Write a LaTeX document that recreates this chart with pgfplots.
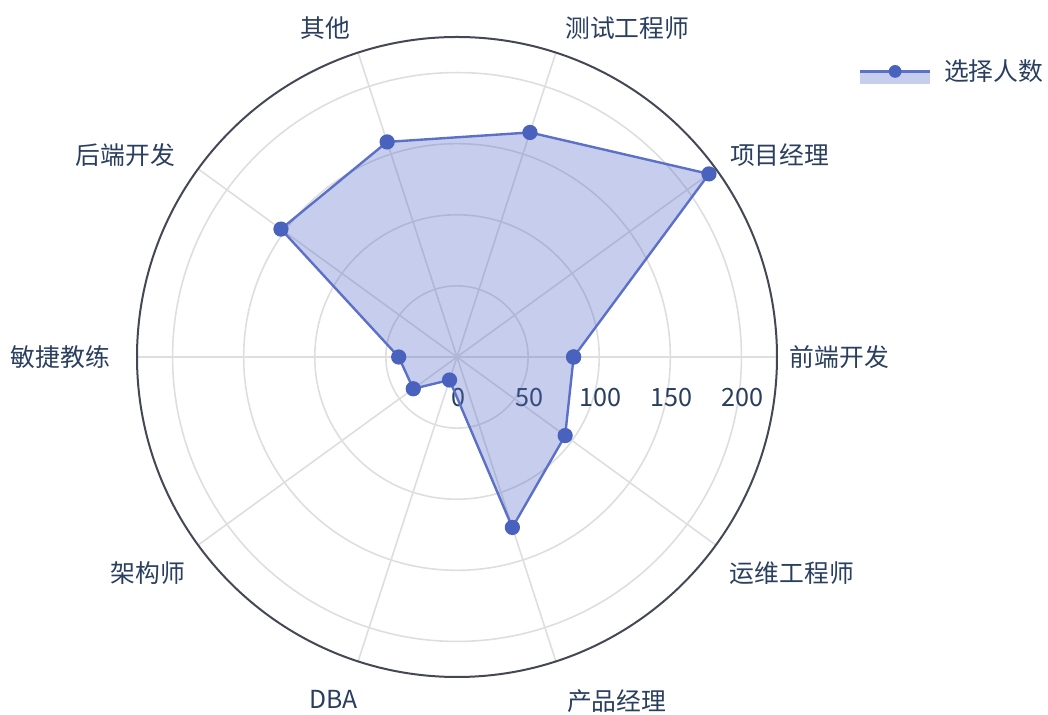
\documentclass[border=0pt]{standalone}
\usepackage{fontspec}
\setmainfont{Noto Sans CJK SC}
\usepackage{pgfplots}
\pgfplotsset{compat=1.18}
\usepgfplotslibrary{polar}
\definecolor{txt}{RGB}{42,63,95}
\definecolor{linec}{RGB}{92,112,200}
\definecolor{markc}{RGB}{72,98,190}
\definecolor{fillb}{RGB}{80,100,200}
\definecolor{gridc}{RGB}{222,222,222}
\definecolor{outer}{RGB}{68,72,84}
\tikzset{cat/.style={text=txt, inner sep=0pt, outer sep=0pt, font=\fontsize{12.4}{14}\selectfont}}
\begin{document}
\begin{tikzpicture}
\path[use as bounding box] (0pt,0pt) rectangle (524pt,357.5pt);
\begin{polaraxis}[
  at={(228.5pt,179pt)}, anchor=origin,
  width=320pt, height=320pt, scale only axis,
  clip mode=individual,
  xmin=0, xmax=360, ymin=0, ymax=225,
  xtick={0,36,...,324},
  xticklabels={},
  ytick={0,50,100,150,200},
  xmajorgrids, ymajorgrids,
  major grid style={draw=gridc, line width=0.8pt},
  x axis line style={draw=outer, line width=1pt},
  y axis line style={draw=none},
  major tick length=0pt,
  tick label style={text=txt, font=\fontsize{12.6}{14}\selectfont},
  yticklabel style={anchor=north, yshift=-12pt, xshift=0.5pt},
  /pgf/number format/assume math mode=true,
  legend style={at={(1.118,0.978)}, anchor=north west, draw=none, fill=none,
    font=\fontsize{12.4}{14}\selectfont, text=txt},
  legend image code/.code={
    \path[fill=fillb, fill opacity=0.32, draw=none] (0pt,-6.3pt) rectangle (35pt,0.3pt);
    \path[draw=linec, line width=1.2pt, draw opacity=1] (0pt,0pt) -- (35pt,0pt);
    \path[fill=markc, fill opacity=1, draw=none] (17.5pt,0pt) circle (3.2pt);
    \path[draw=none] (40pt,0pt);
  },
]
\addplot[draw=linec, line width=1.2pt, fill=fillb, fill opacity=0.32,
  mark=*, mark size=3.2pt, mark options={fill=markc, draw=markc, fill opacity=1}]
  coordinates {(0,82) (36,219) (72,166) (108,159) (144,153) (180,41) (216,38) (252,17) (288,126) (324,94) (360,82)};
\addlegendentry{选择人数}
\node[cat, anchor=west] at (axis cs:0,234.1) {前端开发};
\node[cat, anchor=west] at (axis cs:36.5,238.8) {项目经理};
\node[cat, anchor=south west] at (axis cs:71.2,236.1) {测试工程师};
\node[cat, anchor=south east] at (axis cs:108.6,235.9) {其他};
\node[cat, anchor=east] at (axis cs:144.4,243.9) {后端开发};
\node[cat, anchor=east] at (axis cs:180,244) {敏捷教练};
\node[cat, anchor=east] at (axis cs:218.45,244.2) {架构师};
\node[cat, anchor=north east] at (axis cs:253.4,244.3) {DBA};
\node[cat, anchor=north west] at (axis cs:288.3,246.6) {产品经理};
\node[cat, anchor=west] at (axis cs:321.6,244.8) {运维工程师};
\end{polaraxis}
\end{tikzpicture}
\end{document}
